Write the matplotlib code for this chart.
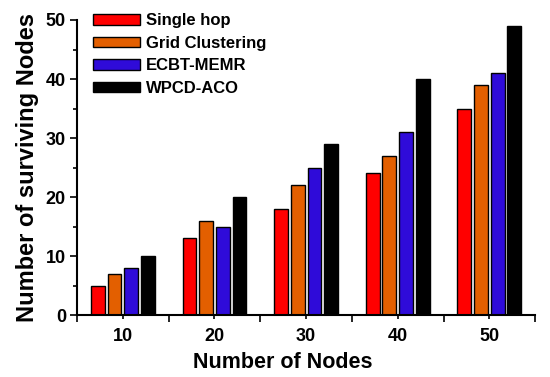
import matplotlib
matplotlib.use("Agg")
import matplotlib.pyplot as plt
import numpy as np
from matplotlib.ticker import MultipleLocator

plt.rcParams['font.family'] = ['Liberation Sans', 'DejaVu Sans']
plt.rcParams['font.weight'] = 'bold'

categories = ["10", "20", "30", "40", "50"]
series_names = ["Single hop", "Grid Clustering", "ECBT-MEMR", "WPCD-ACO"]
single_hop = [5, 13, 18, 24, 35]
grid_clustering = [7, 16, 22, 27, 39]
ecbt_memr = [8, 15, 25, 31, 41]
wpcd_aco = [10, 20, 29, 40, 49]
colors = ["#FF0000", "#E35F00", "#2F0BD9", "#000000"]

fig = plt.figure(figsize=(5.5, 3.77), dpi=100)
ax = fig.add_axes([0.14, 0.164, 0.833, 0.783])

x = np.arange(1, len(categories) + 1)
w = 0.15
step = 0.182
all_series = [single_hop, grid_clustering, ecbt_memr, wpcd_aco]
for i, (vals, name, c) in enumerate(zip(all_series, series_names, colors)):
    ax.bar(x + (i - 1.5) * step, vals, width=w, color=c, edgecolor="black",
           linewidth=1.0, label=name)

ax.set_xlim(0.5, 5.5)
ax.set_ylim(0, 50)
ax.set_xticks(x)
ax.set_xticklabels(categories)
ax.xaxis.set_minor_locator(MultipleLocator(1.0, offset=0.5))
ax.yaxis.set_major_locator(MultipleLocator(10))
ax.yaxis.set_minor_locator(MultipleLocator(5))
ax.tick_params(axis='both', which='major', direction='out', length=5, width=1.2,
               labelsize=13, pad=3)
ax.tick_params(axis='y', which='minor', direction='out', length=3, width=1.2)
ax.tick_params(axis='x', which='major', length=3)
ax.tick_params(axis='x', which='minor', direction='out', length=5, width=1.2)
ax.tick_params(axis='x', which='major', pad=6)
for lab in ax.get_xticklabels() + ax.get_yticklabels():
    lab.set_fontweight('bold')

for s in ['top', 'right']:
    ax.spines[s].set_visible(False)
for s in ['left', 'bottom']:
    ax.spines[s].set_linewidth(1.5)

ax.set_xlabel("Number of Nodes", fontsize=15.5, fontweight='bold')
ax.xaxis.set_label_coords(0.45, -0.125, transform=ax.transAxes)
ax.xaxis.label.set_va('top')
ax.set_ylabel("Number of surviving Nodes", fontsize=17, fontweight='bold', labelpad=5)

leg = ax.legend(loc='upper left', bbox_to_anchor=(0.035, 1.022), frameon=False,
                prop={'weight': 'bold', 'size': 12}, handlelength=2.8,
                handleheight=0.57, labelspacing=0.45, handletextpad=0.35,
                borderpad=0, borderaxespad=0)

fig.savefig("out.png", dpi=100)
